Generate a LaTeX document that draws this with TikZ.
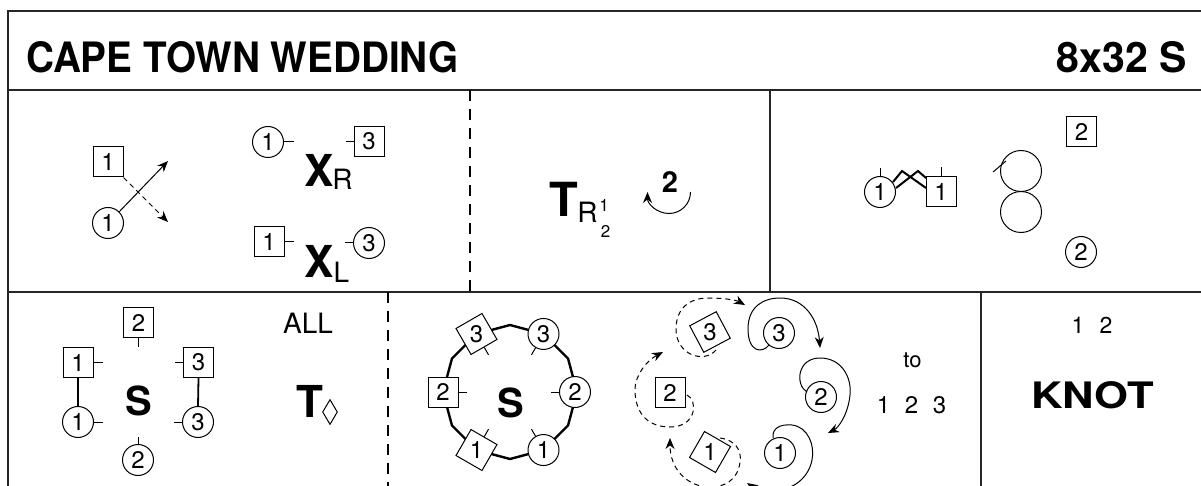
\documentclass[tikz,border=0pt]{standalone}
\usepackage{fontspec}
\setmainfont{TeX Gyre Heros}
\usetikzlibrary{arrows.meta,calc,shapes.geometric}
\newcommand{\fs}[1]{\fontsize{#1}{#1}\selectfont}
\tikzset{
  dig/.style={font=\fs{24}, inner sep=0pt},
  cn/.style={dig, circle, draw, minimum size=31pt, fill=white, line width=1pt},
  sqn/.style={dig, rectangle, draw, minimum size=30pt, fill=white, line width=1pt},
  tk/.style={line width=1pt},
  frameline/.style={line width=2pt, black!85},
  dsh/.style={line width=1.5pt, dash pattern=on 11pt off 8pt},
  loopd/.style={line width=1pt, dash pattern=on 5pt off 4pt},
  loops/.style={line width=1.2pt},
  arr/.style={-{Stealth[length=11pt,width=9pt]}, line width=1pt},
  txt/.style={inner sep=0pt, anchor=base},
  big/.style={txt, font=\bfseries\fs{#1}},
  reg/.style={txt, font=\fs{#1}},
}
\begin{document}
\begin{tikzpicture}[x=1pt,y=-1pt]
\useasboundingbox (0,0) rectangle (1201,486);
% frame
\draw[frameline] (8,486) -- (8,11) -- (1201,11);
\draw[frameline] (8,90) -- (1201,90);
\draw[frameline] (8,292) -- (1201,292);
\draw[dsh] (470,90) -- (470,292);
\draw[frameline] (770,90) -- (770,292);
\draw[dsh] (388,292) -- (388,486);
\draw[frameline] (981,292) -- (981,486);
% title
\node[inner sep=0pt, anchor=base west] (title) at (26,73) {\resizebox{432pt}{31pt}{\bfseries CAPE TOWN WEDDING}};
\node[inner sep=0pt, anchor=base east] (form) at (1187,73) {\resizebox{130pt}{31pt}{\bfseries 8x32 S}};

% ---- row 1 left
\node[sqn] (a1s) at (108,162) {1};
\node[cn] (a1c) at (108,223) {1};
\coordinate (a1e) at (168,161);
\coordinate (a1f) at (168,222);
\draw[arr] (a1c.45) -- (a1e);
\draw[arr, dash pattern=on 5pt off 4pt] (a1s.south east) -- (a1f);
% X_R
\node[cn] (xr1) at (268,142) {1};
\draw[tk] (xr1.east) -- ++(10,0);
\node[big=44] (xr) at (319,187) {X};
\node[reg=28] (xrs) at (342.5,190) {R};
\node[sqn] (xr3) at (369,141.5) {3};
\draw[tk] (xr3.west) -- ++(-8,0);
% X_L
\node[sqn] (xl1) at (269,242) {1};
\draw[tk] (xl1.east) -- ++(9,0);
\node[big=44] (xl) at (319,277) {X};
\node[reg=28] (xls) at (341.5,282) {L};
\node[cn] (xl3) at (369,243) {3};
\draw[tk] (xl3.west) -- ++(-8,0);

% ---- row 1 middle
\node[big=47] (tr) at (563.5,217) {T};
\node[reg=28] (trs) at (587.5,223) {R};
\node[reg=17] (tr1) at (604,212) {1};
\node[reg=17] (tr2) at (605.5,237) {2};
\coordinate (rot) at (690.5,192);
\draw[arr] (rot) arc[start angle=0, end angle=180, radius=21.5];
\node[big=29] (rot2) at (670,193) {2};

% ---- row 1 right
\node[cn] (b1c) at (880,192) {1};
\node[sqn] (b1s) at (941,192) {1};
\draw[tk] (b1c.north) -- ++(0,-8);
\draw[tk] (b1s.north) -- ++(0,-9);
\draw[line width=2pt] (893,182) -- (902,171) -- (926,188);
\draw[line width=2pt] (896,188) -- (918,171) -- (926,178);
\draw[line width=1pt] (1021,171) circle[radius=20.5];
\draw[line width=1pt] (1021,212) circle[radius=20.5];
\draw[line width=1pt] (993,172) -- (1006,161);
\node[sqn] (b2s) at (1081.5,131.5) {2};
\node[cn] (b2c) at (1081,252) {2};

% ---- row 2 left
\node[sqn] (c2s) at (138.5,322.5) {2};
\draw[tk] (c2s.south) -- ++(0,9);
\node[sqn] (c1s) at (78,362.5) {1};
\draw[tk] (c1s.east) -- ++(9,0);
\node[cn] (c1c) at (78,422) {1};
\draw[tk] (c1c.east) -- ++(9,0);
\draw[line width=1.8pt] (c1s.south) -- (c1c.north);
\node[sqn] (c3s) at (198.5,362.5) {3};
\draw[tk] (c3s.west) -- ++(-8,0);
\node[cn] (c3c) at (198,422) {3};
\draw[tk] (c3c.west) -- ++(-8,0);
\draw[line width=1.8pt] (c3s.south) -- (c3c.north);
\node[cn] (c2c) at (138,460) {2};
\draw[tk] (c2c.north) -- ++(0,-7);
\node[big=40] (cs) at (139,415) {S};
\node[reg=28] (all) at (308,333) {ALL};
\node[big=44] (ct) at (310,417) {T};
\node[draw, diamond, inner sep=0pt, minimum width=15pt, minimum height=25pt, line width=1pt] (dm) at (330,412) {};

% ---- row 2 middle: ring
\coordinate (rc) at (510,392);
\draw[line width=2.4pt, shift={(510,392)}] (0:67) \foreach \a in {30,60,...,330} { -- (\a:67)} -- cycle;
\node[sqn, rotate=30] (r3s) at ($(rc)+(240:67)$) {};
\node[dig] at (r3s) {3};
\node[cn] (r3c) at ($(rc)+(300:67)$) {3};
\node[cn] (r2c) at ($(rc)+(0:65)$) {2};
\node[cn] (r1c) at ($(rc)+(60:67)$) {1};
\node[sqn, rotate=-30] (r1s) at ($(rc)+(120:67)$) {};
\node[dig] at (r1s) {1};
\node[sqn] (r2s) at ($(rc)+(180:67)$) {2};
\foreach \n in {r3s,r3c,r2c,r1c,r1s,r2s}
  \draw[tk] ($(\n)!15.5pt!(rc)$) -- ($(\n)!24pt!(rc)$);
\node[big=40] (rs) at (511,417) {S};

% ---- row 2 right: loops
\node[sqn, rotate=28] (l3s) at (710,332) {};
\node[dig] at (l3s) {3};
\node[sqn] (l2s) at (670,392.5) {2};
\node[sqn, rotate=-30] (l1s) at (710,452) {};
\node[dig] at (l1s) {1};
\node[cn] (l3c) at (779,333) {3};
\node[cn] (l2c) at (821,397) {2};
\node[cn] (l1c) at (780,453) {1};
\coordinate (e3s) at (745,305);
\coordinate (e2s) at (663,352);
\coordinate (e1s) at (670,438);
\coordinate (e3c) at (820,348);
\coordinate (e2c) at (828,433);
\coordinate (e1c) at (747,483);
\draw[loopd, arr] (716,350) .. controls (704,364) and (676,355) .. (676,329)
   .. controls (676,308) and (690,298) .. (708,298)
   .. controls (724,298) and (736,300) .. (e3s);
\draw[loopd, arr] (687,395) .. controls (698,400) and (697,427) .. (670,427)
   .. controls (645,427) and (635,410) .. (635,390)
   .. controls (635,374) and (648,360) .. (e2s);
\draw[loopd, arr] (720,438) .. controls (735,440) and (742,450) .. (740,462)
   .. controls (738,480) and (724,488) .. (708,487)
   .. controls (688,486) and (670,470) .. (e1s);
\draw[loops, arr] (769,345) .. controls (762,354) and (748,352) .. (748,329)
   .. controls (748,306) and (764,298) .. (780,298)
   .. controls (805,298) and (818,320) .. (e3c);
\draw[loops, arr] (807,392) .. controls (795,385) and (797,358) .. (820,358)
   .. controls (842,358) and (852,378) .. (850,395)
   .. controls (848,415) and (838,428) .. (e2c);
\draw[loops, arr] (773,438) .. controls (772,428) and (780,424) .. (792,425)
   .. controls (808,427) and (815,445) .. (812,460)
   .. controls (808,480) and (790,492) .. (770,490)
   .. controls (760,489) and (753,487) .. (e1c);
\node[reg=22] (to) at (912.5,367) {to};
\node[reg=24] (n123) at (911.5,413) {1 \hspace{8pt}2 \hspace{8pt}3};

% ---- knot
\node[reg=23] (n12) at (1092,333) {1 \hspace{9pt}2};
\node[inner sep=0pt, anchor=base] (knot) at (1092.5,408) {\resizebox{123pt}{27pt}{\bfseries KNOT}};
\end{tikzpicture}
\end{document}
